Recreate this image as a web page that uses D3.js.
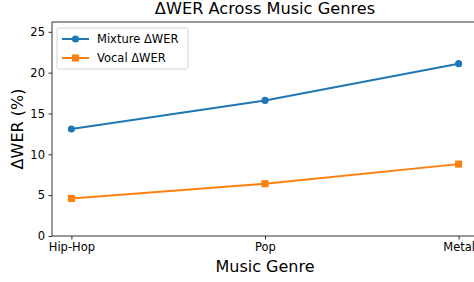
<!DOCTYPE html>
<meta charset="utf-8">
<title>ΔWER Across Music Genres</title>
<style>
body { margin: 0; background: #fff; }
svg { display: block; font-family: 'DejaVu Sans', sans-serif; }
.axis text { font-size: 11.5px; fill: #000; font-family: 'DejaVu Sans', sans-serif; }
.axis path, .axis line { stroke: #000; stroke-width: 0.8; }
</style>
<svg width="474" height="282"></svg>
<script src="https://d3js.org/d3.v7.min.js"></script>
<script>
var genres = ["Hip-Hop", "Pop", "Metal"];
var mixture = [13.1, 16.6, 21.1];
var vocal = [4.6, 6.4, 8.8];
var yTicks = [0, 5, 10, 15, 20, 25];

var svg = d3.select("svg"),
    pLeft = 52, pTop = 22, pRight = 478, pBottom = 236;

var x = d3.scalePoint().domain(genres).range([pLeft + 19.4, pRight - 19.4]);
var y = d3.scaleLinear().domain([0, 26.2]).range([pBottom, pTop]);

// spines
svg.append("line").attr("x1", pLeft).attr("x2", pRight).attr("y1", pTop).attr("y2", pTop)
  .attr("stroke", "#000").attr("stroke-width", 0.8);
svg.append("line").attr("x1", pRight).attr("x2", pRight).attr("y1", pTop).attr("y2", pBottom)
  .attr("stroke", "#000").attr("stroke-width", 0.8);

svg.append("g").attr("class", "axis")
  .attr("transform", "translate(0," + pBottom + ")")
  .call(d3.axisBottom(x).tickSize(3.5).tickPadding(3))
  .call(g => g.select(".domain").attr("d", "M" + pLeft + ",0H" + pRight));

svg.append("g").attr("class", "axis")
  .attr("transform", "translate(" + pLeft + ",0)")
  .call(d3.axisLeft(y).tickValues(yTicks).tickSize(3.5).tickPadding(3.5))
  .call(g => g.select(".domain").attr("d", "M0," + pTop + "V" + pBottom));

var line = d3.line().x((d, i) => x(genres[i])).y(d => y(d));

var series = [
  {name: "Mixture ΔWER", values: mixture, color: "#1f77b4", shape: "circle"},
  {name: "Vocal ΔWER", values: vocal, color: "#ff7f0e", shape: "square"}
];

function marker(s) {
  return d3.symbol().type(s.shape === "circle" ? d3.symbolCircle : d3.symbolSquare)
    .size(s.shape === "circle" ? 40 : 50)();
}

series.forEach(function(s) {
  svg.append("path").datum(s.values)
    .attr("d", line).attr("fill", "none")
    .attr("stroke", s.color).attr("stroke-width", 2);
  svg.selectAll(null).data(s.values).enter().append("path")
    .attr("transform", (d, i) => "translate(" + x(genres[i]) + "," + y(d) + ")")
    .attr("d", marker(s))
    .attr("fill", s.color);
});

// legend
var lg = svg.append("g").attr("transform", "translate(57,28)");
lg.append("rect").attr("width", 131).attr("height", 41).attr("rx", 2)
  .attr("fill", "#fff").attr("fill-opacity", 0.8).attr("stroke", "#ccc").attr("stroke-width", 0.8);
series.forEach(function(s, i) {
  var yy = 11 + i * 19;
  lg.append("line").attr("x1", 5).attr("x2", 32).attr("y1", yy).attr("y2", yy)
    .attr("stroke", s.color).attr("stroke-width", 2);
  lg.append("path").attr("transform", "translate(18.5," + yy + ")")
    .attr("d", marker(s))
    .attr("fill", s.color);
  lg.append("text").attr("x", 40).attr("y", yy).attr("dy", "0.35em")
    .attr("font-size", 11.5).text(s.name);
});

svg.append("text").attr("x", 265).attr("y", 14).attr("text-anchor", "middle")
  .attr("font-size", 16.2).text("ΔWER Across Music Genres");
svg.append("text").attr("x", 265).attr("y", 272).attr("text-anchor", "middle")
  .attr("font-size", 16).text("Music Genre");
svg.append("text").attr("transform", "translate(23," + ((pTop + pBottom) / 2) + ") rotate(-90)")
  .attr("text-anchor", "middle").attr("font-size", 16).text("ΔWER (%)");
</script>
